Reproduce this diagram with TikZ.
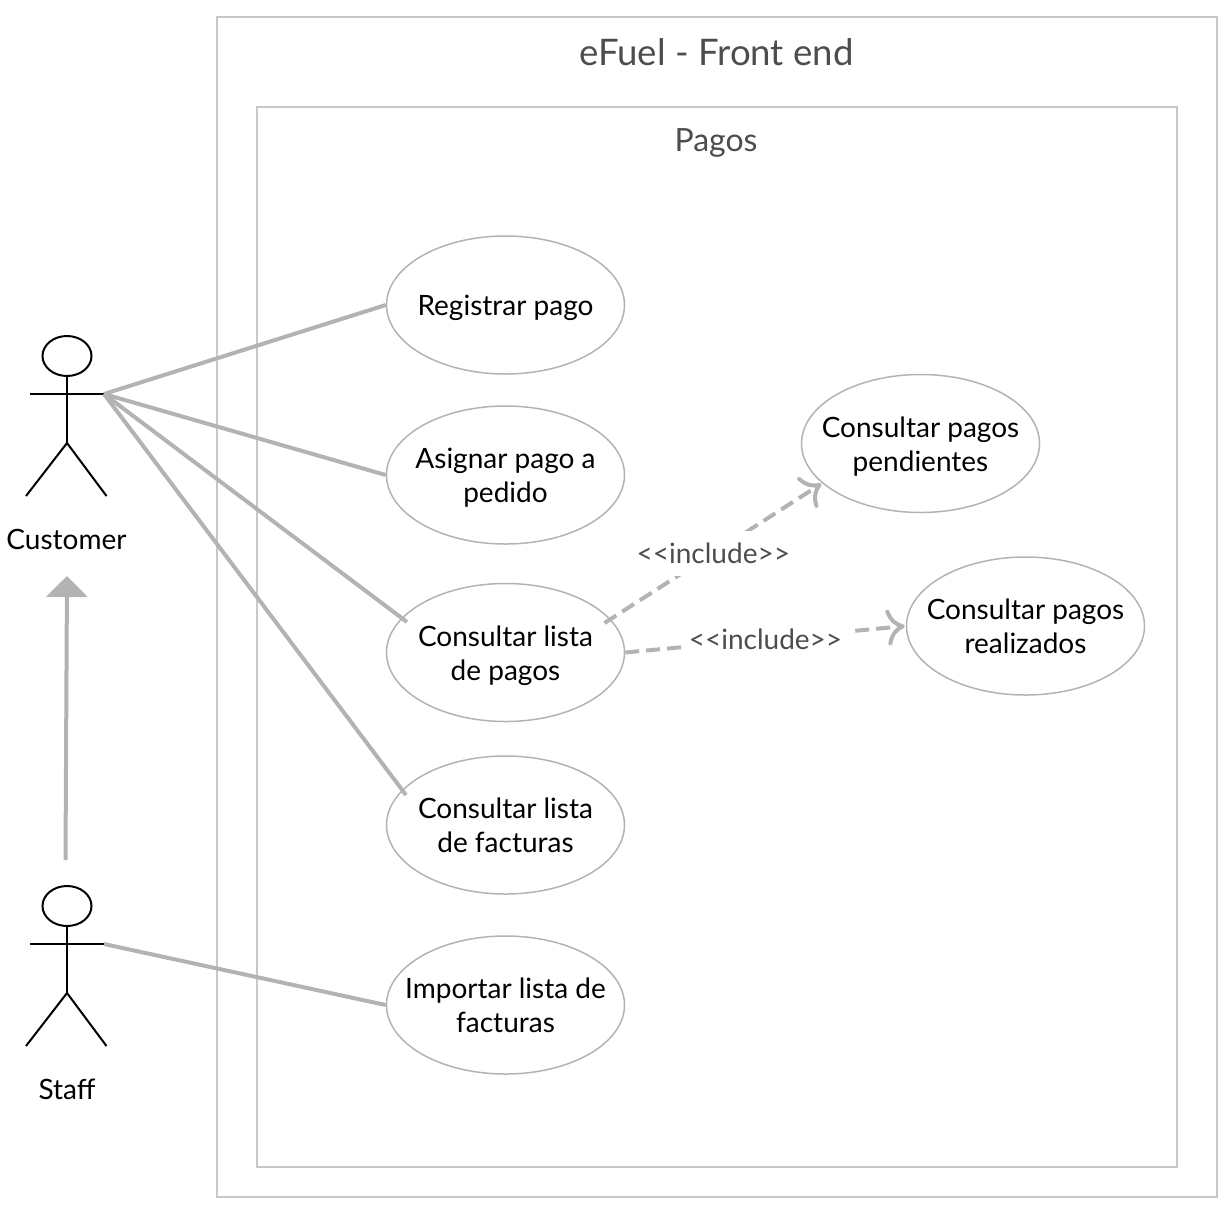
\documentclass[tikz,border=0pt]{standalone}
\usepackage{fontspec}
\setmainfont{Lato}
\usetikzlibrary{arrows.meta,shapes.geometric}
\definecolor{edge}{HTML}{B3B3B3}
\definecolor{frameline}{HTML}{C8C8C8}
\definecolor{titletext}{HTML}{4D4D4D}
\tikzset{
  x=1pt,y=-1pt,
  usecase/.style={draw=edge,line width=1.5pt,ellipse,minimum width=238pt,minimum height=138pt,inner xsep=-50pt,inner ysep=-30pt,align=center,font=\fontsize{28}{34}\selectfont,text=black},
  frame/.style={draw=frameline,line width=2pt},
  framelabel/.style={text=titletext,inner sep=0pt},
  assoc/.style={draw=edge,line width=4pt},
  incl/.style={draw=edge,line width=4pt,dash pattern=on 14pt off 7pt,shorten >=1pt,-{Computer Modern Rightarrow[length=18pt,width=36pt,line width=4pt]}},
  incllabel/.style={fill=white,text=titletext,inner xsep=7pt,inner ysep=0pt,minimum height=45pt,font=\fontsize{28}{34}\selectfont},
  actorname/.style={inner sep=0pt,text=black,font=\fontsize{28}{34}\selectfont},
  actorline/.style={draw=black,line width=2pt}
}
\newcommand{\ucone}[1]{\rule{0pt}{31.8pt}\strut #1}
\newcommand{\uctwo}[2]{\rule{0pt}{31.8pt}\strut #1\\\strut #2}
\newcommand{\actorfig}[3]{%
  \node[draw=black,line width=2pt,ellipse,minimum width=49pt,minimum height=40pt,inner sep=0pt] (#3head) at (#1,#2) {};
  \coordinate (#3hip) at (#1,#2+87);
  \coordinate (#3la) at (#1-37,#2+38);
  \coordinate (#3ra) at (#1+37,#2+38);
  \coordinate (#3lf) at (#1-41,#2+140);
  \coordinate (#3rf) at (#1+39.5,#2+140);
  \draw[actorline] (#3head.south) -- (#3hip);
  \draw[actorline] (#3la) -- (#3ra);
  \draw[actorline] (#3lf) -- (#3hip) -- (#3rf);
}
\begin{document}
\begin{tikzpicture}
\useasboundingbox (0,0) rectangle (1230,1210);
\node[frame,minimum width=1000pt,minimum height=1180pt,inner sep=0pt] (outer) at (717,607) {};
\node[frame,minimum width=920pt,minimum height=1060pt,inner sep=0pt] (inner) at (717,637) {};
\node[framelabel,font=\fontsize{36.6}{44}\selectfont] (t1) at (716.5,52.5) {eFuel - Front end};
\node[framelabel,font=\fontsize{32}{38}\selectfont] (t2) at (716,143) {Pagos};
\node[usecase] (reg) at (505.5,305) {\ucone{Registrar pago}};
\node[usecase] (asi) at (505.5,475) {\uctwo{Asignar pago a}{pedido}};
\node[usecase] (cpag) at (505.5,652.5) {\uctwo{Consultar lista}{de pagos}};
\node[usecase] (cfac) at (505.5,825) {\uctwo{Consultar lista}{de facturas}};
\node[usecase] (imp) at (505.5,1005) {\uctwo{Importar lista de}{facturas}};
\node[usecase] (pen) at (920.5,443.5) {\uctwo{Consultar pagos}{pendientes}};
\node[usecase] (rea) at (1025.5,626) {\uctwo{Consultar pagos}{realizados}};
\actorfig{67}{356}{c}
\actorfig{67}{906}{s}
\node[actorname] (cn) at (66.5,539) {Customer};
\node[actorname] (sn) at (67,1089) {Staff};
\coordinate (cpagin) at (407,622);
\coordinate (cfacin) at (406,795);
\coordinate (cpagout) at (604.5,623);
\coordinate (gs) at (65.5,860);
\coordinate (gt) at (67,576);
\draw[assoc] (cra) -- (reg.west);
\draw[assoc] (cra) -- (asi.west);
\draw[assoc] (cra) -- (cpagin);
\draw[assoc] (cra) -- (cfacin);
\draw[assoc] (sra) -- (imp.west);
\draw[assoc,-{Triangle[length=21pt,width=41pt,fill=edge]}] (gs) -- (gt);
\draw[incl] (cpagout) -- (pen.202) node[midway,incllabel] {<{}<include>{}>};
\draw[incl] (cpag.east) -- (rea.west) node[midway,incllabel] {<{}<include>{}>};
\end{tikzpicture}
\end{document}
